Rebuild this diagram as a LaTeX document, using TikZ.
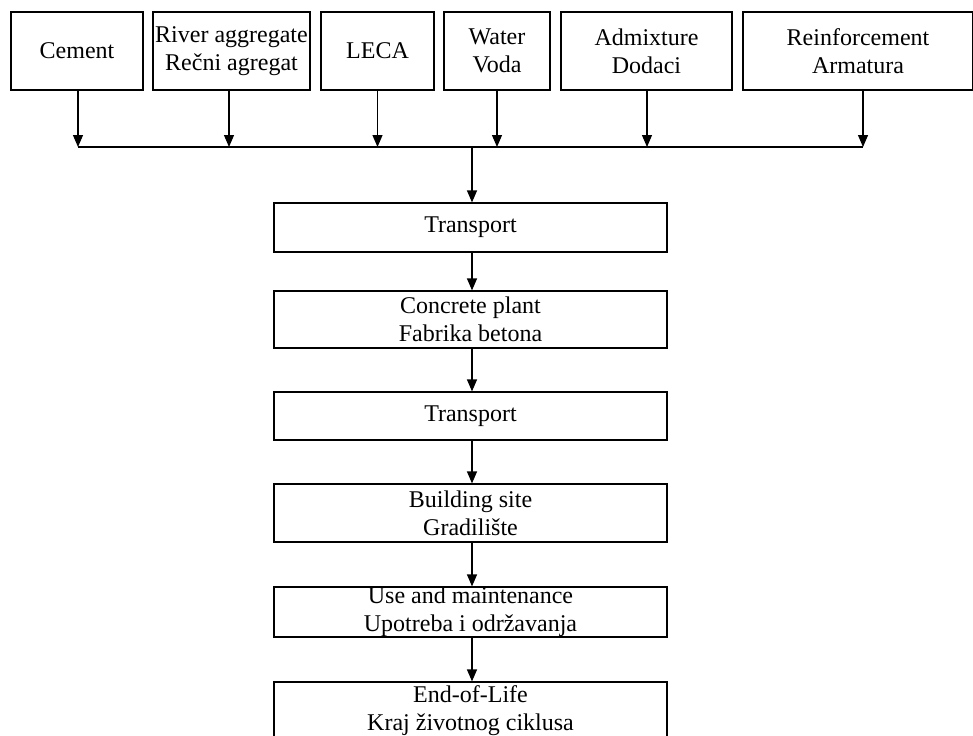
\documentclass[tikz,border=0pt]{standalone}
\usepackage{fontspec}
\setmainfont{Liberation Serif}
\usetikzlibrary{positioning,arrows.meta}

\begin{document}
\begin{tikzpicture}[x=0.5pt,y=-0.5pt,
  box/.style={draw,line width=0.6pt,inner sep=0pt,align=center,font=\fontsize{12}{13.8}\selectfont},
  flow/.style={line width=0.6pt,-{Triangle[width=5pt,length=6pt]}}]
\useasboundingbox (0,0) rectangle (973,735);
% inputs
\node[box,minimum width=66pt,minimum height=39pt] (cem) at (77,51) {Cement};
\node[box,minimum width=78.5pt,minimum height=39pt] (riv) at (231.5,51) {River aggregate\\Rečni agregat};
\node[box,minimum width=56.5pt,minimum height=39pt] (leca) at (377.5,51) {LECA};
\node[box,minimum width=53pt,minimum height=39pt] (wat) at (497,51) {Water\\Voda};
\node[box,minimum width=85.5pt,minimum height=39pt] (adm) at (646.5,51) {Admixture\\Dodaci};
\node[box,minimum width=115pt,minimum height=39pt] (reinf) at (858,51) {Reinforcement\\Armatura};
\coordinate (busl) at (78,147);
\coordinate (busr) at (863,147);
\coordinate (busm) at (472,147);
\foreach \nn/\dx in {cem/0.5pt,riv/-1.25pt,leca/0pt,wat/0pt,adm/0.25pt,reinf/2.5pt}
  {\draw[flow] ([xshift=\dx]\nn.south) -- ([xshift=\dx]\nn.south |- busl);}
\draw[line width=0.6pt] (busl) -- (busr);
% process chain
\node[box,minimum width=196.5pt,minimum height=24.5pt] (tr1) at (470.5,227.5) {Transport};
\node[box,minimum width=196.5pt,minimum height=28.5pt] (plant) at (470.5,319.5) {Concrete plant\\Fabrika betona};
\node[box,minimum width=196.5pt,minimum height=24pt] (tr2) at (470.5,416) {Transport};
\node[box,minimum width=196.5pt,minimum height=29pt] (site) at (470.5,513) {Building site\\Gradilište};
\node[box,minimum width=196.5pt,minimum height=25pt] (use) at (470.5,612) {Use and maintenance\\Upotreba i održavanja};
\node[box,minimum width=196.5pt,minimum height=28.5pt] (eol) at (470.5,710.5) {End-of-Life\\Kraj životnog ciklusa};
\draw[flow] (busm) -- (busm |- tr1.north);
\foreach \aa/\bb in {tr1/plant,plant/tr2,tr2/site,site/use,use/eol}
  {\draw[flow] ([xshift=0.75pt]\aa.south) -- ([xshift=0.75pt]\bb.north);}
\end{tikzpicture}
\end{document}
